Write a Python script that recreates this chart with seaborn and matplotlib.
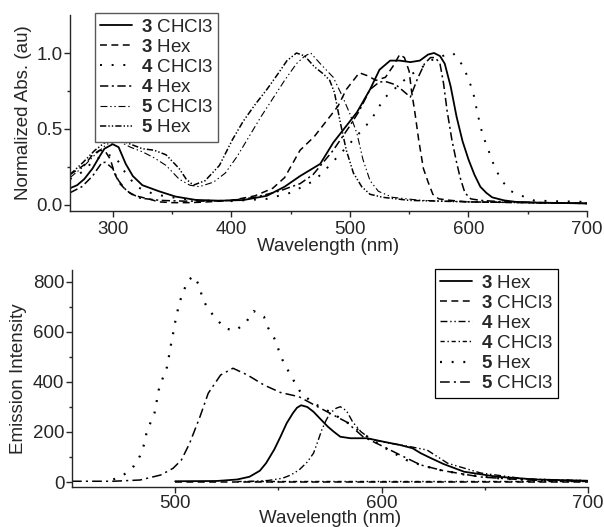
import matplotlib
matplotlib.use("Agg")
import matplotlib.pyplot as plt
import seaborn as sns
import pandas as pd

# ---------------- Absorption spectra (normalized) ----------------
abs_3_chcl3_x = [264, 270, 276, 283, 289, 293, 300, 305, 311, 317, 325, 339, 353, 370, 390,
                 410, 430, 445, 458, 475, 486, 494, 506, 517, 525, 534, 542, 551, 559, 566,
                 571, 576, 580, 585, 590, 595, 600, 605, 610, 615, 620, 630, 640, 660, 700]
abs_3_chcl3_y = [0.11, 0.13, 0.17, 0.24, 0.32, 0.37, 0.40, 0.38, 0.27, 0.19, 0.13, 0.09, 0.055,
                 0.033, 0.028, 0.032, 0.06, 0.12, 0.19, 0.27, 0.41, 0.49, 0.61, 0.76, 0.89, 0.95,
                 0.95, 0.94, 0.95, 0.99, 1.0, 0.98, 0.93, 0.78, 0.58, 0.42, 0.30, 0.20, 0.12,
                 0.08, 0.05, 0.03, 0.02, 0.015, 0.01]

abs_3_hex_x = [264, 270, 277, 283, 289, 294, 298, 302, 306, 311, 316, 322, 330, 339, 350, 365,
               380, 400, 420, 435, 445, 458, 470, 480, 490, 497, 503, 508, 515, 522, 530, 537,
               542, 546, 550, 552, 555, 558, 562, 566, 570, 575, 585, 600, 700]
abs_3_hex_y = [0.20, 0.23, 0.27, 0.33, 0.36, 0.35, 0.30, 0.20, 0.14, 0.10, 0.07, 0.055, 0.04,
               0.02, 0.015, 0.015, 0.02, 0.03, 0.06, 0.11, 0.18, 0.36, 0.45, 0.55, 0.65, 0.76,
               0.82, 0.87, 0.85, 0.82, 0.84, 0.92, 0.99, 0.97, 0.88, 0.75, 0.60, 0.43, 0.24,
               0.15, 0.07, 0.04, 0.03, 0.02, 0.01]

abs_4_chcl3_x = [264, 275, 285, 295, 302, 310, 320, 335, 350, 370, 400, 430, 450, 460, 470, 478,
                 490, 503, 518, 524, 530, 540, 550, 560, 568, 578, 587, 595, 600, 604, 608, 612,
                 616, 620, 624, 628, 636, 645, 655, 670, 700]
abs_4_chcl3_y = [0.17, 0.22, 0.30, 0.33, 0.32, 0.22, 0.12, 0.07, 0.05, 0.03, 0.025, 0.04, 0.08,
                 0.12, 0.16, 0.22, 0.32, 0.43, 0.56, 0.64, 0.71, 0.78, 0.85, 0.90, 0.95, 0.98,
                 1.0, 0.92, 0.83, 0.74, 0.59, 0.46, 0.38, 0.29, 0.22, 0.16, 0.09, 0.06, 0.03,
                 0.025, 0.02]

abs_4_hex_x = [264, 274, 283, 291, 294, 300, 305, 312, 323, 340, 360, 380, 400, 420, 440, 458,
               469, 486, 500, 508, 517, 525, 531, 539, 545, 551, 557, 563, 568, 572, 576, 579,
               582, 586, 590, 593, 597, 602, 610, 630, 700]
abs_4_hex_y = [0.08, 0.12, 0.19, 0.28, 0.28, 0.24, 0.16, 0.09, 0.045, 0.03, 0.025, 0.025, 0.03,
               0.05, 0.09, 0.14, 0.20, 0.36, 0.52, 0.62, 0.76, 0.81, 0.81, 0.79, 0.75, 0.71,
               0.83, 0.93, 0.97, 0.97, 0.93, 0.80, 0.62, 0.43, 0.28, 0.18, 0.08, 0.04, 0.03,
               0.02, 0.01]

abs_5_chcl3_x = [264, 275, 285, 295, 305, 315, 325, 335, 345, 356, 365, 373, 385, 395, 405, 415,
                 425, 435, 445, 455, 462, 467, 475, 486, 494, 500, 506, 511, 517, 524, 536, 560,
                 600, 700]
abs_5_chcl3_y = [0.18, 0.25, 0.33, 0.40, 0.42, 0.38, 0.35, 0.31, 0.26, 0.17, 0.13, 0.12, 0.15,
                 0.21, 0.32, 0.45, 0.58, 0.70, 0.82, 0.93, 0.98, 1.0, 0.93, 0.84, 0.71, 0.60,
                 0.47, 0.30, 0.16, 0.09, 0.05, 0.03, 0.02, 0.01]

abs_5_hex_x = [264, 275, 285, 295, 305, 315, 325, 335, 345, 356, 362, 368, 378, 390, 401, 410,
               420, 430, 440, 447, 455, 462, 470, 478, 483, 487, 492, 497, 503, 510, 517, 528,
               550, 600, 700]
abs_5_hex_y = [0.20, 0.28, 0.36, 0.42, 0.43, 0.40, 0.37, 0.36, 0.33, 0.24, 0.17, 0.13, 0.16,
               0.26, 0.43, 0.55, 0.66, 0.76, 0.87, 0.95, 1.0, 0.98, 0.91, 0.86, 0.82, 0.74,
               0.54, 0.36, 0.21, 0.12, 0.07, 0.05, 0.03, 0.02, 0.01]

# ---------------- Emission spectra ----------------
em_3_hex_x = [500, 520, 530, 536, 541, 544, 548, 551, 554, 557, 559, 561, 564, 567, 570, 574,
              577, 580, 585, 593, 601, 609, 615, 619, 624, 630, 640, 656, 675, 700]
em_3_hex_y = [3, 4, 10, 21, 45, 75, 130, 181, 235, 275, 297, 307, 300, 281, 255, 221, 200, 181,
              175, 175, 161, 148, 135, 115, 95, 72, 41, 21, 10, 5]

em_3_chcl3_x = [500, 550, 600, 650, 700]
em_3_chcl3_y = [2, 2, 2, 2, 2]

em_4_hex_x = [535, 545, 552, 556, 560, 564, 567, 569, 571, 573, 575, 578, 580, 583, 586, 590,
              595, 604, 614, 622, 632, 648, 670, 700]
em_4_hex_y = [2, 6, 15, 28, 48, 80, 115, 160, 208, 245, 275, 295, 301, 285, 240, 201, 170, 155,
              141, 128, 75, 36, 12, 5]

em_4_chcl3_x = [530, 570, 610, 650, 700]
em_4_chcl3_y = [3, 3, 3, 3, 3]

em_5_hex_x = [470, 475, 480, 483, 485, 486, 488, 490, 491, 492, 494, 496, 497, 498, 499, 500,
              502, 506, 509, 512, 513, 516, 520, 524, 529, 534, 538, 543, 545, 548, 550, 552,
              555, 558, 561, 567, 575, 585, 595, 605, 612, 619, 627, 640, 660, 700]
em_5_hex_y = [10, 28, 64, 105, 152, 192, 237, 277, 321, 368, 416, 459, 504, 552, 595, 640, 717,
              805, 824, 781, 737, 691, 652, 615, 605, 635, 684, 661, 617, 575, 531, 488, 441,
              397, 355, 315, 280, 230, 170, 120, 88, 68, 50, 30, 12, 4]

em_5_chcl3_x = [450, 470, 483, 493, 499, 503, 507, 512, 516, 522, 528, 535, 543, 551, 560, 569,
                575, 583, 591, 601, 609, 619, 630, 648, 670, 700]
em_5_chcl3_y = [3, 3, 8, 28, 55, 88, 155, 261, 355, 428, 455, 428, 388, 358, 341, 301, 275, 240,
                181, 141, 108, 68, 45, 20, 8, 3]

# ---------------- Styling ----------------
sns.set_style("ticks")
plt.rcParams["font.family"] = ["Liberation Sans", "DejaVu Sans"]
plt.rcParams["mathtext.fontset"] = "custom"
plt.rcParams["mathtext.rm"] = "Liberation Sans"
plt.rcParams["mathtext.bf"] = "Liberation Sans:bold"
plt.rcParams["lines.scale_dashes"] = False
plt.rcParams["axes.linewidth"] = 1.0

FS = 13.5

fig = plt.figure(figsize=(6.04, 5.27), dpi=100)
ax1 = fig.add_axes([0.1159, 0.5996, 0.8560, 0.3719])
ax2 = fig.add_axes([0.1192, 0.0759, 0.8543, 0.4118])


def draw(ax, x, y, label, ls, lw):
    df = pd.DataFrame({"x": x, "y": y})
    sns.lineplot(data=df, x="x", y="y", ax=ax, color="black", linestyle=ls,
                 linewidth=lw, label=label, estimator=None, sort=False)


SOLID = "-"
DASH = (0, (5, 3.2))
DOT = (0, (1.4, 7.0))
DASHDOT = (0, (6, 2.5, 1.5, 2.5))
DASHDOTDOT = (0, (5, 2, 1, 2, 1, 2))

# top panel
draw(ax1, abs_3_chcl3_x, abs_3_chcl3_y, r"$\mathbf{3}$ CHCl3", SOLID, 1.3)
draw(ax1, abs_3_hex_x, abs_3_hex_y, r"$\mathbf{3}$ Hex", DASH, 1.1)
draw(ax1, abs_4_chcl3_x, abs_4_chcl3_y, r"$\mathbf{4}$ CHCl3", DOT, 1.4)
draw(ax1, abs_4_hex_x, abs_4_hex_y, r"$\mathbf{4}$ Hex", DASHDOT, 1.1)
draw(ax1, abs_5_chcl3_x, abs_5_chcl3_y, r"$\mathbf{5}$ CHCl3", DASHDOTDOT, 0.8)
draw(ax1, abs_5_hex_x, abs_5_hex_y, r"$\mathbf{5}$ Hex", (0, (4.5, 1.5, 1, 1.5, 1, 1.5)), 1.1)

# bottom panel
draw(ax2, em_3_hex_x, em_3_hex_y, r"$\mathbf{3}$ Hex", SOLID, 1.3)
draw(ax2, em_3_chcl3_x, em_3_chcl3_y, r"$\mathbf{3}$ CHCl3", DASH, 1.1)
draw(ax2, em_4_hex_x, em_4_hex_y, r"$\mathbf{4}$ Hex", DASHDOTDOT, 1.0)
draw(ax2, em_4_chcl3_x, em_4_chcl3_y, r"$\mathbf{4}$ CHCl3", (0, (3, 2, 1, 2)), 1.0)
draw(ax2, em_5_hex_x, em_5_hex_y, r"$\mathbf{5}$ Hex", DOT, 1.6)
draw(ax2, em_5_chcl3_x, em_5_chcl3_y, r"$\mathbf{5}$ CHCl3", (0, (7, 3, 1.5, 3)), 1.1)

ax1.set_xlim(264, 700)
ax1.set_ylim(-0.04, 1.25)
ax1.set_xticks([300, 400, 500, 600, 700])
ax1.set_xticks([350, 450, 550, 650], minor=True)
ax1.set_yticks([0.0, 0.5, 1.0])
ax1.set_yticklabels(["0.0", "0.5", "1.0"])
ax1.set_yticks([0.25, 0.75], minor=True)
ax1.set_xlabel("Wavelength (nm)", fontsize=FS, labelpad=0)
ax1.set_ylabel("Normalized Abs. (au)", fontsize=FS, labelpad=3)

ax2.set_xlim(450, 700)
ax2.set_ylim(-20, 848)
ax2.set_xticks([500, 600, 700])
ax2.set_xticks([550, 650], minor=True)
ax2.set_yticks([0, 200, 400, 600, 800])
ax2.set_yticks([100, 300, 500, 700], minor=True)
ax2.set_xlabel("Wavelength (nm)", fontsize=FS, labelpad=-1)
ax2.set_ylabel("Emission Intensity", fontsize=FS, labelpad=4)

for ax in (ax1, ax2):
    sns.despine(ax=ax)
    ax.tick_params(which="major", direction="out", length=4, width=1.0, labelsize=FS, pad=1.5)
    ax.tick_params(which="minor", direction="out", length=2.5, width=1.0)
ax1.tick_params(axis="x", which="major", pad=3)

leg1 = ax1.legend(loc="upper left", bbox_to_anchor=(0.048, 1.01), borderaxespad=0,
                  fontsize=FS, frameon=True, fancybox=False, framealpha=1,
                  edgecolor="0.35", handlelength=1.7, handletextpad=0.45,
                  labelspacing=0.16, borderpad=0.3)
leg1.get_frame().set_linewidth(1.0)

leg2 = ax2.legend(loc="upper left", bbox_to_anchor=(0.703, 1.005), borderaxespad=0,
                  fontsize=FS, frameon=True, fancybox=False, framealpha=1,
                  edgecolor="black", handlelength=1.7, handletextpad=0.45,
                  labelspacing=0.16, borderpad=0.3)
leg2.get_frame().set_linewidth(0.9)

fig.savefig("out.png", dpi=100)
